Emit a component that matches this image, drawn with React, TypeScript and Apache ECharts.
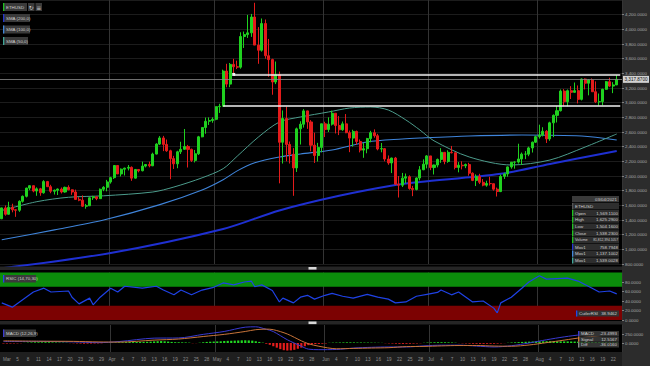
import React, { useEffect, useRef } from 'react';
import * as echarts from 'echarts';

// ---- Price data, [open, high, low, close] per day ----
const march = [
  [1417,1568,1412,1565],[1565,1598,1459,1478],[1478,1649,1473,1574],[1574,1622,1505,1539],[1539,1547,1443,1533],
  [1533,1668,1511,1655],[1655,1734,1637,1723],[1723,1840,1708,1835],[1835,1875,1807,1868],[1868,1870,1778,1795],
  [1795,1845,1730,1825],[1825,1838,1730,1771],[1771,1943,1759,1924],[1924,1933,1851,1854],[1854,1880,1765,1792],
  [1792,1815,1747,1806],[1806,1830,1741,1822],[1822,1843,1762,1782],[1782,1855,1773,1845],[1845,1873,1806,1812],
  [1812,1818,1743,1782],[1782,1814,1675,1681],[1681,1712,1656,1670],[1670,1736,1578,1588],[1588,1619,1554,1594],
  [1594,1711,1594,1703],[1703,1730,1674,1716],[1716,1722,1670,1691],[1691,1829,1690,1819],[1819,1861,1793,1846],
  [1846,1947,1791,1919],
];
const april = [
  [1919,1989,1896,1977],[1977,2145,1960,2143],[2143,2144,2028,2028],[2028,2103,1994,2093],[2093,2113,2007,2107],
  [2107,2150,2076,2118],[2118,2131,1934,1971],[1971,2096,1965,2089],[2089,2091,2050,2072],[2072,2196,2063,2135],
  [2135,2162,2117,2157],[2157,2196,2118,2139],[2139,2318,2135,2299],[2299,2447,2295,2435],[2435,2544,2423,2519],
  [2519,2547,2339,2431],[2431,2497,2330,2344],[2344,2358,1956,2237],[2237,2275,2096,2166],[2166,2344,2106,2330],
  [2330,2467,2300,2364],[2364,2641,2357,2403],[2403,2424,2116,2363],[2363,2374,2191,2213],[2213,2355,2185,2303],
  [2303,2547,2287,2534],[2534,2664,2528,2662],[2662,2797,2576,2746],[2746,2799,2696,2757],[2757,2800,2726,2773],
];
const may = [
  [2773,2950,2760,2945],[2945,2985,2860,2950],[2950,3450,2950,3431],[3431,3530,3210,3253],[3253,3541,3211,3522],
  [3522,3598,3382,3490],[3490,3573,3458,3484],[3484,3960,3463,3902],[3902,3970,3746,3928],[3928,4197,3883,3952],
  [3952,4210,3897,4168],[4168,4362,3785,3785],[3785,4030,3530,3715],[3715,4148,3696,4079],[4079,4134,3600,3640],
  [3640,3869,3353,3587],[3587,3599,3108,3282],[3282,3561,3253,3380],[3380,3424,1900,2460],[2460,2894,2170,2784],
  [2784,2946,2200,2430],[2430,2470,2170,2296],[2296,2380,1730,2110],[2110,2660,2055,2643],[2643,2747,2429,2706],
  [2706,2912,2660,2888],[2888,2891,2643,2737],[2737,2762,2336,2420],[2420,2591,2178,2279],[2279,2452,2197,2390],
  [2390,2712,2322,2712],
];
const june = [
  [2712,2740,2531,2634],[2634,2800,2600,2707],[2707,2891,2688,2856],[2856,2858,2580,2688],[2688,2817,2558,2630],
  [2630,2743,2616,2711],[2711,2845,2584,2590],[2590,2620,2325,2517],[2517,2631,2400,2608],[2608,2619,2428,2471],
  [2471,2498,2322,2353],[2353,2450,2248,2372],[2372,2520,2310,2510],[2510,2616,2460,2590],[2590,2636,2522,2549],
  [2549,2575,2350,2368],[2368,2450,2323,2373],[2373,2381,2200,2231],[2231,2280,2153,2178],[2178,2250,2040,2245],
  [2245,2260,1876,1888],[1888,2000,1707,1875],[1875,2042,1850,1971],[1971,2034,1900,1990],[1990,2009,1813,1830],
  [1830,1865,1725,1817],[1817,1980,1804,1973],[1973,2135,1940,2085],[2085,2227,2080,2161],[2161,2285,2104,2274],
];
const july = [
  [2274,2274,2080,2115],[2115,2155,2021,2150],[2150,2238,2118,2226],[2226,2380,2180,2323],[2323,2326,2160,2198],
  [2198,2350,2180,2323],[2323,2410,2308,2317],[2317,2320,2090,2117],[2117,2190,2050,2147],[2147,2200,2090,2139],
  [2139,2170,2107,2156],[2156,2180,2004,2038],[2038,2050,1930,1940],[1940,2022,1863,1995],[1995,2030,1890,1914],
  [1914,1958,1860,1875],[1875,1936,1854,1898],[1898,1990,1870,1895],[1895,1897,1800,1820],[1820,1842,1720,1788],
  [1788,2020,1780,1995],[1995,2045,1960,2028],[2028,2130,1990,2124],[2124,2190,2100,2188],[2188,2200,2100,2190],
  [2190,2440,2170,2232],[2232,2320,2150,2298],[2298,2340,2230,2298],[2298,2400,2270,2383],[2383,2470,2320,2461],
  [2461,2550,2450,2536],
];
const august = [
  [2536,2700,2510,2559],[2559,2665,2540,2610],[2610,2625,2450,2506],[2506,2740,2480,2725],[2725,2840,2530,2827],
  [2827,2950,2730,2890],[2890,3180,2880,3158],[3158,3185,2950,3013],[3013,3180,2950,3163],[3163,3225,3050,3141],
  [3141,3275,3135,3164],[3164,3235,2990,3045],[3045,3330,3030,3322],[3322,3330,3180,3265],[3265,3320,3100,3310],
  [3310,3330,3145,3149],[3149,3290,2995,3011],[3011,3125,2960,3015],[3015,3190,2965,3182],[3182,3295,3175,3286],
  [3286,3340,3215,3226],[3226,3280,3130,3242],[3242,3375,3240,3318],
];

// ---- Moving averages (read at sample dates) ----
const sma200Points: [string, number][] = [
  ['2021-03-01',742],['2021-04-01',950],['2021-05-03',1277],['2021-05-19',1530],['2021-06-05',1730],
  ['2021-06-21',1877],['2021-06-28',1918],['2021-07-21',2030],['2021-08-04',2165],['2021-08-23',2341],
];
const sma100Points: [string, number][] = [
  ['2021-03-01',1130],['2021-03-16',1265],['2021-03-30',1400],['2021-04-15',1610],['2021-04-27',1810],
  ['2021-05-03',1950],['2021-05-07',2070],['2021-05-12',2180],['2021-05-19',2259],['2021-05-25',2300],
  ['2021-06-03',2355],['2021-06-13',2464],['2021-06-23',2505],['2021-06-28',2518],['2021-07-12',2545],
  ['2021-07-27',2559],['2021-08-13',2545],['2021-08-23',2491],
];
const sma50Points: [string, number][] = [
  ['2021-03-01',1530],['2021-03-11',1650],['2021-03-20',1710],['2021-03-30',1730],['2021-04-13',1782],
  ['2021-04-19',1850],['2021-04-27',1975],['2021-05-03',2100],['2021-05-07',2270],['2021-05-13',2530],
  ['2021-05-19',2736],['2021-05-25',2805],['2021-06-02',2873],['2021-06-08',2927],['2021-06-14',2941],
  ['2021-06-19',2900],['2021-06-24',2764],['2021-06-28',2627],['2021-07-02',2480],['2021-07-12',2260],
  ['2021-07-24',2150],['2021-08-04',2218],['2021-08-14',2395],['2021-08-23',2573],
];

// ---- RSI (Cutler 14) ----
const rsiPoints: [string, number][] = [
  ['2021-03-01',36],['2021-03-04',27],['2021-03-10',59],['2021-03-13',67],['2021-03-15',59],['2021-03-20',61],
  ['2021-03-21',48],['2021-03-23',34],['2021-03-26',46],['2021-03-27',32],['2021-03-29',48],['2021-04-01',67],
  ['2021-04-03',59],['2021-04-05',71],['2021-04-10',67],['2021-04-14',71],['2021-04-16',63],['2021-04-19',53],
  ['2021-04-21',63],['2021-04-24',53],['2021-04-27',63],['2021-04-30',68],['2021-05-03',78],['2021-05-06',74],
  ['2021-05-09',80],['2021-05-11',82],['2021-05-12',70],['2021-05-14',74],['2021-05-17',62],['2021-05-19',38],
  ['2021-05-20',46],['2021-05-23',36],['2021-05-25',48],['2021-05-27',52],['2021-05-29',44],['2021-06-01',52],
  ['2021-06-03',56],['2021-06-06',50],['2021-06-09',46],['2021-06-13',54],['2021-06-16',48],['2021-06-19',44],
  ['2021-06-21',36],['2021-06-24',38],['2021-06-27',50],['2021-06-30',54],['2021-07-03',58],['2021-07-04',63],
  ['2021-07-07',53],['2021-07-09',59],['2021-07-13',38],['2021-07-16',40],['2021-07-19',25],['2021-07-20',15],
  ['2021-07-21',36],['2021-07-24',48],['2021-07-27',67],['2021-07-29',80],['2021-08-01',93],['2021-08-03',86],
  ['2021-08-09',88],['2021-08-12',82],['2021-08-16',67],['2021-08-18',59],['2021-08-21',61],['2021-08-23',55],
];

// ---- MACD (12,26,9) ----
const macdPoints: [string, number][] = [
  ['2021-03-01',40],['2021-03-11',45],['2021-03-21',30],['2021-03-28',10],['2021-04-03',40],['2021-04-13',135],
  ['2021-04-20',140],['2021-04-27',240],['2021-05-03',320],['2021-05-09',440],['2021-05-12',450],['2021-05-15',380],
  ['2021-05-17',318],['2021-05-21',90],['2021-05-25',-90],['2021-05-27',-170],['2021-05-30',-185],['2021-06-04',-180],
  ['2021-06-09',-140],['2021-06-14',-120],['2021-06-19',-110],['2021-06-24',-110],['2021-06-29',-80],['2021-07-04',-60],
  ['2021-07-09',-60],['2021-07-14',-85],['2021-07-19',-110],['2021-07-24',-75],['2021-07-29',0],['2021-08-03',90],
  ['2021-08-08',170],['2021-08-13',230],['2021-08-18',250],['2021-08-23',250],
];
const signalPoints: [string, number][] = [
  ['2021-03-01',60],['2021-03-11',50],['2021-03-21',45],['2021-03-28',30],['2021-04-03',25],['2021-04-13',80],
  ['2021-04-20',110],['2021-04-27',180],['2021-05-03',240],['2021-05-09',320],['2021-05-12',370],['2021-05-15',385],
  ['2021-05-17',370],['2021-05-21',250],['2021-05-25',60],['2021-05-27',-20],['2021-05-30',-90],['2021-06-04',-160],
  ['2021-06-09',-150],['2021-06-14',-140],['2021-06-19',-130],['2021-06-24',-100],['2021-06-29',-95],['2021-07-04',-80],
  ['2021-07-09',-70],['2021-07-14',-70],['2021-07-19',-85],['2021-07-24',-90],['2021-07-29',-55],['2021-08-03',10],
  ['2021-08-08',80],['2021-08-13',150],['2021-08-18',200],['2021-08-23',230],
];
const histogram = [
  -12,-15,-14,-12,-10,-6,
  4,10,15,18,20,18,22,20,16,14,12,10,8,
  -4,-8,-12,-16,-20,-18,-16,-14,-12,-8,
  2,6,12,16,18,20,
  24,28,26,28,30,32,34,38,44,50,54,
  48,40,30,22,20,18,16,10,-6,-4,8,
  20,30,36,40,44,48,56,60,62,66,70,74,76,72,66,50,30,
  10,-20,-50,-90,-130,-170,-200,-210,-205,-190,-160,-130,
  -90,-60,-40,-30,-25,-20,-12,
  6,10,12,14,16,18,18,16,14,14,12,12,10,8,6,4,
  -6,-10,-14,-18,-22,-24,-22,-20,-16,-12,-6,
  6,12,16,20,22,22,20,18,14,8,
  -4,-8,-12,-16,-20,-22,-24,-24,-22,-22,-20,-16,-10,-4,
  6,12,18,24,30,34,38,42,44,46,48,50,52,50,48,46,44,44,42,40,38,36,34,32,30,28,26,24,22,20,18,16,
];

// ---- Drawn levels ----
const lastClose = 3317.87;
const upperLevel = { from: '2021-05-06', value: 3385 };
const lowerLevel = { from: '2021-05-03', value: 2962 };

// ---- Axis ticks ----
const monthStarts = ['2021-04-01', '2021-05-01', '2021-06-01', '2021-07-01', '2021-08-01'];
const monthNames: Record<string, string> = { '03': 'Mar', '04': 'Apr', '05': 'May', '06': 'Jun', '07': 'Jul', '08': 'Aug' };
const tickDays: Record<string, number[]> = {
  '03': [2, 5, 8, 11, 14, 17, 20, 23, 26, 29],
  '04': [1, 4, 7, 10, 13, 16, 19, 22, 25, 28],
  '05': [1, 4, 7, 10, 13, 16, 19, 22, 25, 28],
  '06': [1, 4, 7, 10, 13, 16, 19, 22, 25, 28],
  '07': [1, 4, 7, 10, 13, 16, 19, 22, 25, 28],
  '08': [1, 4, 7, 10, 13, 16, 19, 22],
};

// info panel rows
const infoHeader = '03/04/2021';
const infoRows: [string, string, string][] = [
  ['ETHUSD', '', '#555555'],
  ['Open', '1,569.1100', '#1fc21f'],
  ['High', '1,625.2900', '#1fc21f'],
  ['Low', '1,504.1600', '#1fc21f'],
  ['Close', '1,538.2300', '#1fc21f'],
  ['Volume', '81,812,394.1057', '#1fc21f'],
  ['Mov1', '758.7948', '#2436d0'],
  ['Mov1', '1,137.1002', '#3f86da'],
  ['Mov1', '1,539.0028', '#3ea596'],
];
const macdBox: [string, string, string][] = [
  ['MACD', '-23.4993', '#3a3ad0'],
  ['Signal', '12.5167', '#d07a38'],
  ['Diff', '-36.0160', '#888888'],
];

const FONT = '"Liberation Sans", Arial, sans-serif';

function buildDates(): string[] {
  const out: string[] = [];
  for (let t = Date.UTC(2021, 2, 1); t <= Date.UTC(2021, 7, 24); t += 86400000) {
    out.push(new Date(t).toISOString().slice(0, 10));
  }
  return out;
}

export default function App() {
  const ref = useRef<HTMLDivElement>(null);
  useEffect(() => {
    if (!ref.current) return;
    const chart = echarts.init(ref.current, null, { renderer: 'svg' });
    const dates = buildDates();
    const tickMap: Record<string, string> = {};
    Object.keys(tickDays).forEach((m) => {
      tickDays[m].forEach((d, i) => {
        const key = `2021-${m}-${String(d).padStart(2, '0')}`;
        tickMap[key] = i === 0 ? monthNames[m] : String(d);
      });
    });
    const monthSet = new Set(monthStarts);
    const ohlc = [...march, ...april, ...may, ...june, ...july, ...august];
    const candleData = ohlc.map(([o, h, l, c]) => [o, c, l, h]);
    const fmt4 = (v: number) => v.toLocaleString('en-US', { minimumFractionDigits: 4, maximumFractionDigits: 4 });
    const gl = -3, gr = 28;
    const lastDate = dates[dates.length - 1];

    const xAxisBase = (i: number) => ({
      type: 'category', gridIndex: i, data: dates, boundaryGap: true,
      axisLine: { show: false }, axisTick: { show: false },
      axisLabel: i === 2 ? {
        show: true, fontSize: 4.6, color: '#8e8e8e', margin: 4.5, fontFamily: FONT,
        interval: (idx: number) => tickMap[dates[idx]] !== undefined,
        formatter: (v: string) => tickMap[v] || '',
      } : { show: false },
      splitLine: { show: true, interval: (idx: number) => monthSet.has(dates[idx]), lineStyle: { color: '#343434', width: 1 } },
    });
    const yLabel = { fontSize: 4.4, color: '#a8a8a8', margin: 3, fontFamily: FONT, formatter: fmt4 };

    const txt = (x: number, y: number, text: string, extra: any = {}) => ({
      type: 'text', x, y, z: 100,
      style: { text, fill: '#d0d0d0', font: `4.4px ${FONT}`, textAlign: 'left', textVerticalAlign: 'middle', align: 'left', verticalAlign: 'middle', ...extra },
    });
    const rect = (x: number, y: number, w: number, h: number, fill: string, z = 99) => ({
      type: 'rect', z, shape: { x, y, width: w, height: h }, style: { fill },
    });

    const graphics: any[] = [
      rect(622, 0, 28, 366, '#2c2c2c', -10),
      rect(0, 352, 622, 14, '#1f1f1f', -10),
      // separators
      rect(0, 266.5, 622, 3.5, '#252525', 50),
      rect(308.5, 267, 8, 2.6, '#d8d8d8', 51),
      rect(0, 321, 622, 3.5, '#252525', 50),
      rect(308.5, 321.5, 8, 2.6, '#d8d8d8', 51),
      // left legend boxes
      rect(3, 3, 24, 8, '#3a3a3a'), rect(3, 3, 1.3, 8, '#1fc21f', 100), txt(6, 7, 'ETHUSD'),
      rect(28, 3, 6.5, 8, '#3a3a3a'), txt(31.2, 7, '↻', { font: `6px "DejaVu Sans"`, textAlign: 'center', align: 'center' }),
      rect(35.5, 3, 6.5, 8, '#3a3a3a'), txt(38.7, 7, '≡', { font: `6px "DejaVu Sans"`, textAlign: 'center', align: 'center' }),
      rect(3, 14, 27, 8, '#3a3a3a'), rect(3, 14, 1.3, 8, '#2436d0', 100), txt(6, 18, 'SMA (200,0)'),
      rect(3, 25.5, 27, 8, '#3a3a3a'), rect(3, 25.5, 1.3, 8, '#3f86da', 100), txt(6, 29.5, 'SMA (100,0)'),
      rect(3, 37, 25, 8, '#3a3a3a'), rect(3, 37, 1.3, 8, '#3ea596', 100), txt(6, 41, 'SMA (50,0)'),
      // panel legends
      rect(3, 275, 33, 7.5, '#3a3a3a'), rect(3, 275, 1.3, 7.5, '#2348e8', 100), txt(6, 278.8, 'RSIC (14,70,30)'),
      rect(3, 329.5, 33, 7.5, '#3a3a3a'), rect(3, 329.5, 1.3, 7.5, '#3a3ad0', 100), txt(6, 333.3, 'MACD (12,26,9)'),
      // RSI value box
      rect(576, 310.5, 43, 6, '#333333'), rect(576, 310.5, 1.3, 6, '#2348e8', 100),
      txt(579, 313.5, 'CutlerRSI'), txt(617, 313.5, '38.9462', { textAlign: 'right', align: 'right' }),
    ];
    // MACD box
    macdBox.forEach(([k, v, c], i) => {
      const y = 331 + i * 5.6;
      graphics.push(rect(578, y, 41, 5.2, '#333333'), rect(578, y, 1.3, 5.2, c, 100),
        txt(581, y + 2.7, k), txt(617, y + 2.7, v, { textAlign: 'right', align: 'right' }));
    });
    // info panel
    graphics.push(rect(572, 196, 47, 6.3, '#3a3a3a'), txt(617, 199.3, infoHeader, { textAlign: 'right', align: 'right' }));
    infoRows.forEach(([k, v, c], i) => {
      const y = 203 + i * 6.8;
      const long = v.length > 12;
      graphics.push(rect(572, y, 47, 6.2, '#2e2e2e'), rect(572, y, 1.3, 6.2, c, 100),
        txt(575, y + 3.2, k, long ? { font: `3.8px ${FONT}` } : {}),
        txt(618, y + 3.2, v, { textAlign: 'right', align: 'right', ...(long ? { font: `3.3px ${FONT}` } : {}) }));
    });

    const option: any = {
      animation: false,
      backgroundColor: '#000000',
      textStyle: { fontFamily: FONT },
      grid: [
        { left: gl, right: gr, top: 0, height: 264 },
        { left: gl, right: gr, top: 272.5, height: 47.5 },
        { left: gl, right: gr, top: 325, height: 27 },
      ],
      xAxis: [xAxisBase(0), xAxisBase(1), xAxisBase(2)],
      yAxis: [
        { type: 'value', gridIndex: 0, position: 'right', min: 800, max: 4400, interval: 200,
          axisLine: { show: false }, axisTick: { show: true, length: 2, lineStyle: { color: '#808080' } },
          axisLabel: { ...yLabel, showMaxLabel: false },
          splitLine: { show: true, lineStyle: { color: '#1c1c1c', width: 1 } } },
        { type: 'value', gridIndex: 1, position: 'right', min: 0, max: 100, interval: 20,
          axisLine: { show: false }, axisTick: { show: true, length: 2, lineStyle: { color: '#808080' } },
          axisLabel: { ...yLabel, showMaxLabel: false }, splitLine: { show: false } },
        { type: 'value', gridIndex: 2, position: 'right', min: -250, max: 500, interval: 250,
          axisLine: { show: false }, axisTick: { show: true, length: 2, lineStyle: { color: '#808080' } },
          axisLabel: { ...yLabel, showMaxLabel: false, showMinLabel: false }, splitLine: { show: false } },
      ],
      graphic: graphics,
      series: [
        { type: 'line', xAxisIndex: 0, yAxisIndex: 0, data: sma200Points, smooth: 0.3, symbol: 'none', clip: false, z: 2,
          lineStyle: { color: '#1f30d2', width: 2 } },
        { type: 'line', xAxisIndex: 0, yAxisIndex: 0, data: sma100Points, smooth: 0.3, symbol: 'none', z: 2,
          lineStyle: { color: '#3f84da', width: 1.1 } },
        { type: 'line', xAxisIndex: 0, yAxisIndex: 0, data: sma50Points, smooth: 0.3, symbol: 'none', z: 2,
          lineStyle: { color: '#4c9c8c', width: 1 } },
        { type: 'candlestick', xAxisIndex: 0, yAxisIndex: 0, data: candleData, barWidth: '72%', z: 3,
          itemStyle: { color: '#1fd11f', color0: '#e41b1b', borderColor: '#1fd11f', borderColor0: '#e41b1b', borderWidth: 1 },
          markLine: {
            silent: true, symbol: ['none', 'none'], animation: false, label: { show: false },
            data: [
              [
                { coord: [upperLevel.from, upperLevel.value], symbol: 'rect', symbolSize: 3, lineStyle: { color: '#f2f2f2', width: 1.6, type: 'solid' } },
                { coord: [lastDate, upperLevel.value], symbol: 'none' },
              ],
              [
                { coord: [lowerLevel.from, lowerLevel.value], lineStyle: { color: '#f2f2f2', width: 1.6, type: 'solid' } },
                { coord: [lastDate, lowerLevel.value] },
              ],
              {
                yAxis: lastClose, lineStyle: { color: '#8a8a8a', width: 0.8, type: 'solid' },
                label: { show: true, position: 'end', distance: 1, formatter: fmt4(lastClose), fontSize: 4.6,
                  color: '#111111', backgroundColor: '#d2d2d2', padding: [1, 1.5], fontFamily: FONT },
              },
            ],
          } },
        { type: 'line', xAxisIndex: 1, yAxisIndex: 1, data: rsiPoints, symbol: 'none', z: 3,
          lineStyle: { color: '#1f42e6', width: 1.2 },
          markArea: { silent: true, data: [
            [{ yAxis: 70, itemStyle: { color: '#0b8d0b', opacity: 1 } }, { yAxis: 100 }],
            [{ yAxis: 0, itemStyle: { color: '#7c0202', opacity: 1 } }, { yAxis: 30 }],
          ] } },
        { type: 'bar', xAxisIndex: 2, yAxisIndex: 2, barWidth: '62%', z: 2,
          data: histogram.map((v) => ({ value: v, itemStyle: { color: v >= 0 ? '#22d822' : '#e51d1d' } })) },
        { type: 'line', xAxisIndex: 2, yAxisIndex: 2, data: macdPoints, smooth: 0.3, symbol: 'none', z: 3,
          lineStyle: { color: '#3a3ad0', width: 1 } },
        { type: 'line', xAxisIndex: 2, yAxisIndex: 2, data: signalPoints, smooth: 0.3, symbol: 'none', z: 3,
          lineStyle: { color: '#c8743a', width: 1 } },
      ],
    };
    chart.setOption(option);
    return () => chart.dispose();
  }, []);
  return <div ref={ref} style={{ position: 'fixed', left: 0, top: 0, width: 650, height: 366 }} />;
}
